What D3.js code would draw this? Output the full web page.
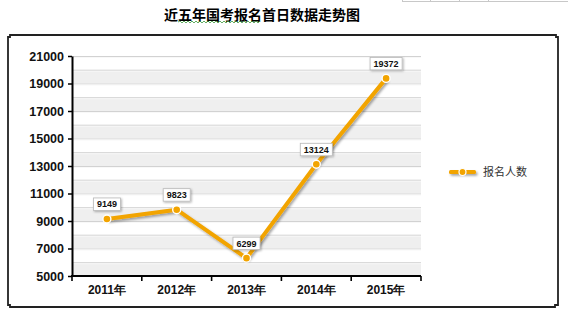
<!DOCTYPE html>
<html><head><meta charset="utf-8">
<script src="https://cdn.jsdelivr.net/npm/d3@7/dist/d3.min.js"></script>
<style>
html,body{margin:0;padding:0;background:#fff;}
svg{display:block;}
</style></head>
<body>
<script>
const title = "近五年国考报名首日数据走势图";
const categories = ["2011年","2012年","2013年","2014年","2015年"];
const values = [9149, 9823, 6299, 13124, 19372];
const seriesName = "报名人数";
const yTicks = [5000,7000,9000,11000,13000,15000,17000,19000,21000];
const yDomain = [5000, 21000];

const W = 568, H = 314;
const svg = d3.select("body").append("svg").attr("width", W).attr("height", H);
const defs = svg.append("defs");
const f1 = defs.append("filter").attr("id","sh").attr("x","-20%").attr("y","-20%").attr("width","150%").attr("height","150%");
f1.append("feDropShadow").attr("dx",1.5).attr("dy",1.8).attr("stdDeviation",1).attr("flood-color","#000").attr("flood-opacity",0.35);
const f3 = defs.append("filter").attr("id","lsh").attr("filterUnits","userSpaceOnUse")
  .attr("x",440).attr("y",160).attr("width",50).attr("height",25);
f3.append("feDropShadow").attr("dx",1.5).attr("dy",1.8).attr("stdDeviation",1).attr("flood-color","#000").attr("flood-opacity",0.35);
const f2 = defs.append("filter").attr("id","bsh").attr("x","-20%").attr("y","-30%").attr("width","150%").attr("height","170%");
f2.append("feDropShadow").attr("dx",1).attr("dy",1).attr("stdDeviation",0.8).attr("flood-color","#000").attr("flood-opacity",0.3);

const orange = "#f2a400";

// faint table remnants at top right
const tg = svg.append("g").attr("stroke","#c8c8c8").attr("stroke-width",1);
tg.append("line").attr("x1",402).attr("x2",568).attr("y1",1.5).attr("y2",1.5);
[402,430,459,488].forEach(x=>tg.append("line").attr("x1",x+0.5).attr("x2",x+0.5).attr("y1",0).attr("y2",2));

// title
svg.append("text").attr("x",262).attr("y",20).attr("text-anchor","middle")
  .attr("font-family","'Noto Sans CJK SC'").attr("font-weight","bold").attr("font-size",14)
  .attr("fill","#000").text(title);
// spell-check squiggle
{
  let d = "M178,22"; let up = true;
  for (let x = 180; x <= 260; x += 2) { d += "L" + x + "," + (up ? 21 : 23); up = !up; }
  svg.append("path").attr("d",d).attr("fill","none").attr("stroke","#3a9a3a").attr("stroke-width",0.8);
}

// frame
svg.append("path")
  .attr("d","M10,35 L556,35 L556,37 L558,37 L558,305 L555,305 L555,307 L10,307 L10,305 L8,305 L8,37 L10,37 Z")
  .attr("fill","none").attr("stroke","#222").attr("stroke-width",1.8);

// scales
const x = d3.scaleBand().domain(categories).range([72, 421]).padding(0);
const y = d3.scaleLinear().domain(yDomain).range([276, 56]);

// bands and grid
const plot = svg.append("g");
const minor = d3.range(yDomain[0], yDomain[1], 1000);
minor.forEach(v => {
  if (((v - yDomain[0]) / 1000) % 2 === 0) {
    plot.append("rect").attr("x",72).attr("width",421-72)
      .attr("y",y(v+1000)).attr("height",y(v)-y(v+1000)).attr("fill","#efefef");
  }
});
d3.range(yDomain[0]+1000, yDomain[1]+1, 1000).forEach(v => {
  plot.append("line").attr("x1",72).attr("x2",421).attr("y1",y(v)+0.5).attr("y2",y(v)+0.5)
    .attr("stroke","#d2d2d2").attr("stroke-width",1);
  plot.append("line").attr("x1",72).attr("x2",421).attr("y1",y(v)+1.5).attr("y2",y(v)+1.5)
    .attr("stroke","#f8f8f8").attr("stroke-width",1);
});

// y axis
const yAxis = d3.axisLeft(y).tickValues(yTicks).tickSize(4).tickSizeOuter(0).tickPadding(4).tickFormat(d3.format("d"));
const ga = svg.append("g").attr("transform","translate(72,0)").call(yAxis);
ga.select(".domain").attr("stroke","#000").attr("stroke-width",2);
ga.selectAll(".tick line").attr("stroke","#000").attr("stroke-width",1.5);
ga.selectAll(".tick text").attr("font-family","'Liberation Sans', Arial").attr("font-weight","bold")
  .attr("font-size",12.5).attr("fill","#111");

// x axis
const xAxis = d3.axisBottom(x).tickSize(0).tickPadding(9);
const gx = svg.append("g").attr("transform","translate(0,276)").call(xAxis);
gx.select(".domain").attr("stroke","#000").attr("stroke-width",2).attr("d","M71,0H421");
gx.selectAll(".tick text").attr("font-family","'Liberation Sans', Arial").attr("font-weight","bold")
  .attr("font-size",12).attr("fill","#111");
const bounds = categories.map(c => x(c)).concat([x(categories[categories.length-1]) + x.bandwidth()]);
gx.selectAll("line.bt").data(bounds).enter().append("line").attr("class","bt")
  .attr("x1",d=>d).attr("x2",d=>d).attr("y1",0).attr("y2",5)
  .attr("stroke","#000").attr("stroke-width",1.6);

// line
const pts = categories.map((c,i)=>({c, v: values[i], x: x(c)+x.bandwidth()/2, y: y(values[i])}));
const line = d3.line().x(d=>d.x).y(d=>d.y);
svg.append("path").datum(pts).attr("d",line).attr("fill","none").attr("stroke",orange)
  .attr("stroke-width",4).attr("stroke-linejoin","round").attr("filter","url(#sh)");
svg.selectAll("circle.pt").data(pts).enter().append("circle").attr("class","pt")
  .attr("cx",d=>d.x).attr("cy",d=>d.y).attr("r",4).attr("fill",orange)
  .attr("stroke","#fff").attr("stroke-width",1.4);

// data labels
const lg = svg.selectAll("g.lbl").data(pts).enter().append("g").attr("class","lbl");
lg.each(function(d){
  const g = d3.select(this);
  const t = g.append("text").attr("x",d.x).attr("y",d.y-11.5).attr("text-anchor","middle")
    .attr("font-family","'Liberation Sans', Arial").attr("font-weight","bold").attr("font-size",9)
    .attr("fill","#111").text(d.v);
  const w = t.node().getComputedTextLength() + 7;
  g.insert("rect","text").attr("x",d.x - w/2).attr("y",d.y-21).attr("width",w).attr("height",12.5)
    .attr("fill","#fff").attr("stroke","#b8b8b8").attr("stroke-width",0.8).attr("filter","url(#bsh)");
});

// legend
const leg = svg.append("g");
leg.append("rect").attr("x",449).attr("y",170).attr("width",27).attr("height",4).attr("rx",1.5)
  .attr("fill",orange).attr("filter","url(#lsh)");
leg.append("circle").attr("cx",462.5).attr("cy",172).attr("r",3.5).attr("fill",orange)
  .attr("stroke","#fff").attr("stroke-width",1.2);
leg.append("text").attr("x",483).attr("y",176).attr("font-family","'Noto Sans CJK SC'")
  .attr("font-size",11).attr("fill","#333").text(seriesName);
</script>
</body></html>
